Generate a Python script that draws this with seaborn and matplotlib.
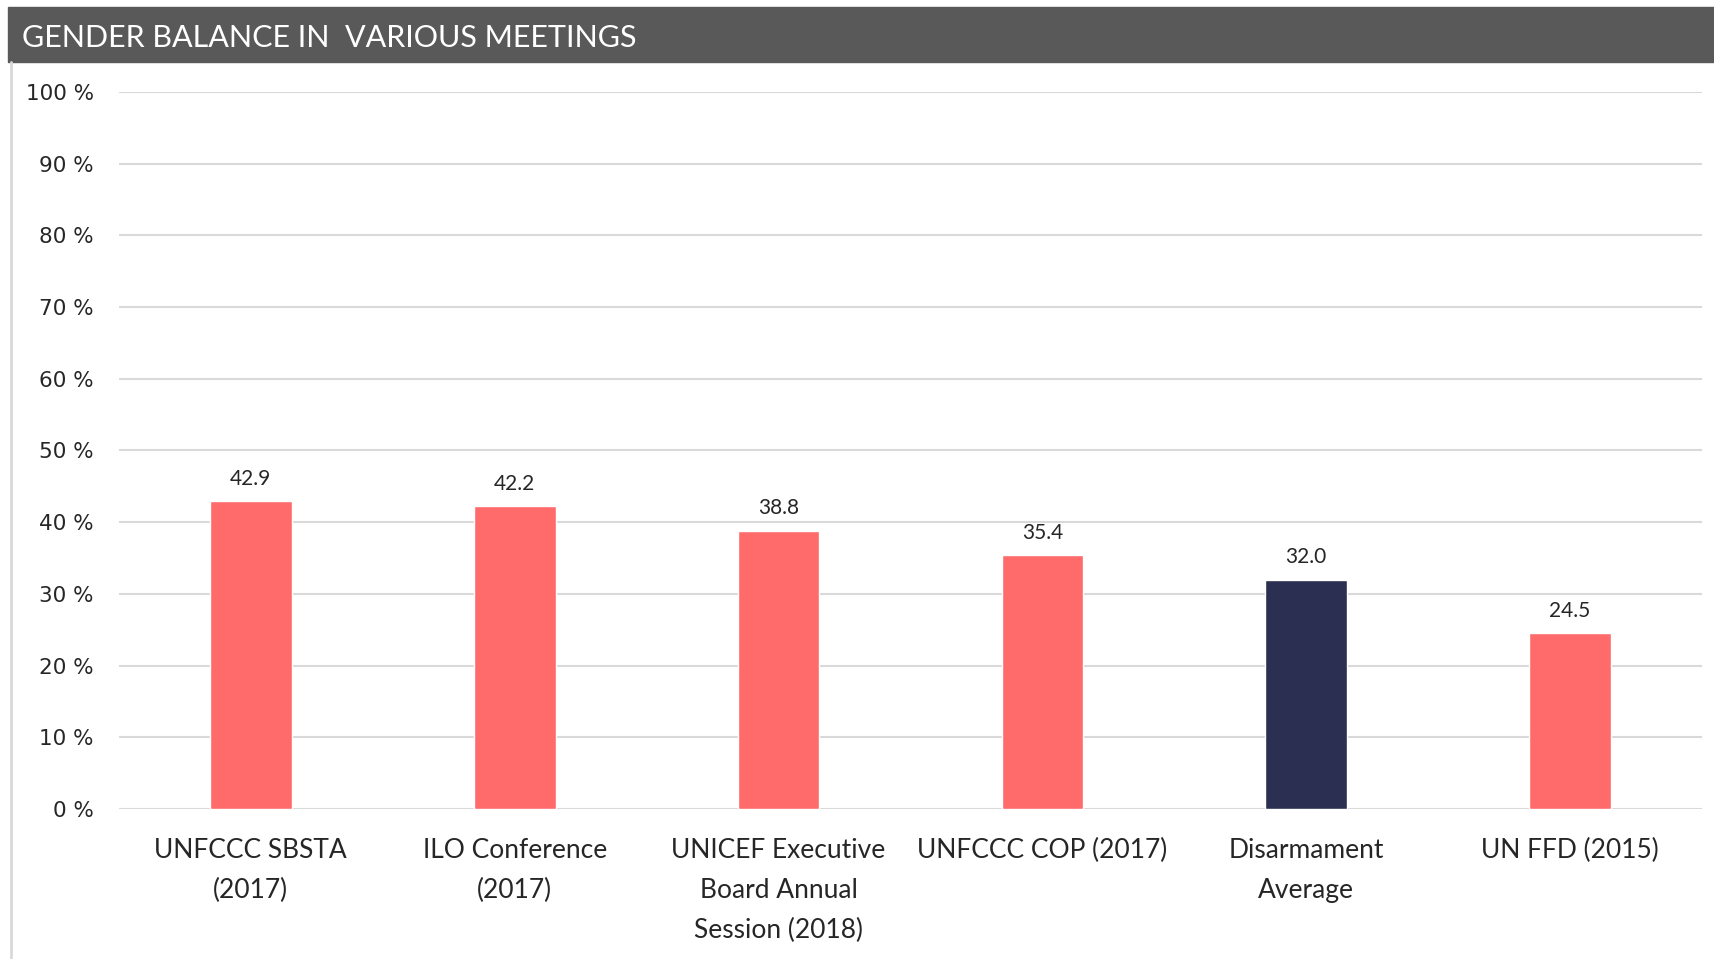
import matplotlib
matplotlib.use("Agg")
import matplotlib.pyplot as plt
import seaborn as sns
import pandas as pd
from matplotlib.patches import Rectangle
from matplotlib.lines import Line2D

# data
meetings = [
    "UNFCCC SBSTA\n(2017)",
    "ILO Conference\n(2017)",
    "UNICEF Executive\nBoard Annual\nSession (2018)",
    "UNFCCC COP (2017)",
    "Disarmament\nAverage",
    "UN FFD (2015)",
]
women_pct = [42.9, 42.2, 38.8, 35.4, 32.0, 24.5]
bar_colors = ["#FF6B6B", "#FF6B6B", "#FF6B6B", "#FF6B6B", "#2B2F52", "#FF6B6B"]
y_ticks = [0, 10, 20, 30, 40, 50, 60, 70, 80, 90, 100]
title = "GENDER BALANCE IN  VARIOUS MEETINGS"

df = pd.DataFrame({"meeting": meetings, "pct": women_pct})

sns.set_theme(style="white")
plt.rcParams["font.family"] = ["Lato", "DejaVu Sans"]

fig = plt.figure(figsize=(17.14, 9.59), dpi=100)
ax = fig.add_axes([0.0694, 0.1564, 0.9236, 0.7477])

sns.barplot(data=df, x="meeting", y="pct", hue="meeting", palette=bar_colors,
            width=0.31, legend=False, ax=ax, saturation=1)

ax.set_ylim(0, 100)
ax.set_xlim(-0.5, len(meetings) - 0.5)
ax.set_yticks(y_ticks)
ax.set_yticklabels([f"{t} %" for t in y_ticks], fontsize=15.5, family="DejaVu Sans")
ax.tick_params(axis="y", length=0, pad=18)
ax.tick_params(axis="x", length=0, pad=21, labelsize=19)
for lbl in ax.get_xticklabels():
    lbl.set_linespacing(1.75)
ax.set_xlabel("")
ax.set_ylabel("")
ax.yaxis.grid(True, color="#D9D9D9", linewidth=1.5)
ax.set_axisbelow(True)
for s in ax.spines.values():
    s.set_visible(False)

for cont in ax.containers:
    ax.bar_label(cont, fmt="%.1f", padding=9, fontsize=15)

# dark title banner and thin left border
fig.patches.append(Rectangle((8 / 1714, 1 - 62 / 959), 1, 55 / 959,
                             transform=fig.transFigure, color="#595959", zorder=0))
fig.text(22 / 1714, 1 - 38 / 959, title, color="white", fontsize=22,
         va="center", ha="left")
fig.lines.append(Line2D([11 / 1714, 11 / 1714], [0, 1 - 62 / 959],
                        transform=fig.transFigure, color="#D9D9D9", linewidth=2))

fig.savefig("out.png", dpi=100)
